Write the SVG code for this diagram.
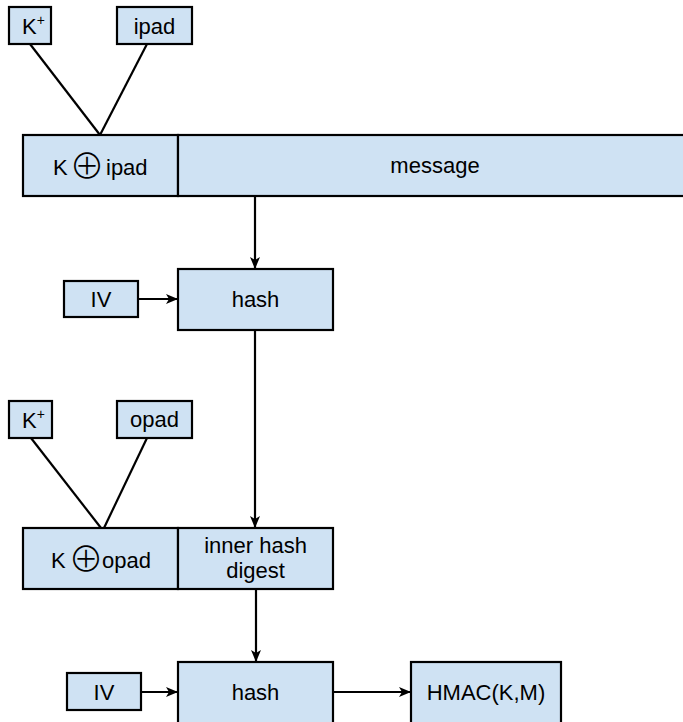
<svg xmlns="http://www.w3.org/2000/svg" width="683" height="722" viewBox="0 0 683 722">
  <defs>
    <style>
      .box { fill: #cfe2f3; stroke: #000; stroke-width: 2.2; }
      .lbl { font-family: "Liberation Sans", Arial, sans-serif; font-size: 22px; fill: #000; text-anchor: middle; }
      .lft { text-anchor: start; }
      .sym { font-family: "Noto Sans CJK SC", "DejaVu Sans", sans-serif; font-size: 35px; font-weight: 300; }
      .sup { font-size: 14px; }
      .wire { stroke: #000; stroke-width: 2.2; fill: none; }
    </style>
    <marker id="arrow" viewBox="0 0 12 10" refX="11" refY="5" markerWidth="12" markerHeight="10" markerUnits="userSpaceOnUse" orient="auto">
      <path d="M0,0 L12,5 L0,10 L3,5 Z" fill="#000"/>
    </marker>
  </defs>
  <rect width="683" height="722" fill="#fff"/>

  <!-- connectors -->
  <g id="connectors">
    <line class="wire" x1="30" y1="44" x2="100" y2="135"/>
    <line class="wire" x1="147" y1="44" x2="100" y2="135"/>
    <line class="wire" x1="255" y1="196" x2="255" y2="268" marker-end="url(#arrow)"/>
    <line class="wire" x1="138" y1="299" x2="177" y2="299" marker-end="url(#arrow)"/>
    <line class="wire" x1="255" y1="330" x2="255" y2="527" marker-end="url(#arrow)"/>
    <line class="wire" x1="31" y1="438" x2="101" y2="528"/>
    <line class="wire" x1="147" y1="438" x2="104" y2="528"/>
    <line class="wire" x1="256" y1="589" x2="256" y2="661" marker-end="url(#arrow)"/>
    <line class="wire" x1="141" y1="692" x2="177" y2="692" marker-end="url(#arrow)"/>
    <line class="wire" x1="333" y1="692" x2="410" y2="692" marker-end="url(#arrow)"/>
  </g>

  <!-- inner round -->
  <g id="kplus1">
    <rect class="box" x="9" y="7" width="42" height="37"/>
    <text class="lbl lft" x="22" y="34">K<tspan class="sup" dy="-9">+</tspan></text>
  </g>
  <g id="ipad">
    <rect class="box" x="117" y="7" width="75" height="37"/>
    <text class="lbl" x="154.5" y="34">ipad</text>
  </g>
  <g id="k-xor-ipad">
    <rect class="box" x="23" y="135" width="155" height="61"/>
    <text class="lbl lft" x="53" y="175">K</text>
    <text class="lbl sym" x="87" y="179">⊕</text>
    <text class="lbl lft" x="106" y="175">ipad</text>
  </g>
  <g id="message">
    <rect class="box" x="178" y="135" width="520" height="61"/>
    <text class="lbl" x="435" y="173">message</text>
  </g>
  <g id="iv1">
    <rect class="box" x="64" y="281" width="74" height="36"/>
    <text class="lbl" x="101" y="307">IV</text>
  </g>
  <g id="hash1">
    <rect class="box" x="178" y="269" width="155" height="61"/>
    <text class="lbl" x="255.5" y="307">hash</text>
  </g>

  <!-- outer round -->
  <g id="kplus2">
    <rect class="box" x="9" y="401" width="43" height="37"/>
    <text class="lbl lft" x="22" y="428">K<tspan class="sup" dy="-9">+</tspan></text>
  </g>
  <g id="opad">
    <rect class="box" x="117" y="401" width="75" height="37"/>
    <text class="lbl" x="154.5" y="427">opad</text>
  </g>
  <g id="k-xor-opad">
    <rect class="box" x="23" y="528" width="155" height="61"/>
    <text class="lbl lft" x="51" y="568">K</text>
    <text class="lbl sym" x="86" y="572">⊕</text>
    <text class="lbl lft" x="102" y="568">opad</text>
  </g>
  <g id="inner-digest">
    <rect class="box" x="178" y="528" width="155" height="61"/>
    <text class="lbl" x="255.5" y="553">inner hash</text>
    <text class="lbl" x="255.5" y="578">digest</text>
  </g>
  <g id="iv2">
    <rect class="box" x="67" y="673" width="74" height="37"/>
    <text class="lbl" x="104" y="700">IV</text>
  </g>
  <g id="hash2">
    <rect class="box" x="178" y="662" width="155" height="70"/>
    <text class="lbl" x="255.5" y="700">hash</text>
  </g>
  <g id="hmac">
    <rect class="box" x="411" y="662" width="150" height="70"/>
    <text class="lbl" x="486" y="700">HMAC(K,M)</text>
  </g>
</svg>
